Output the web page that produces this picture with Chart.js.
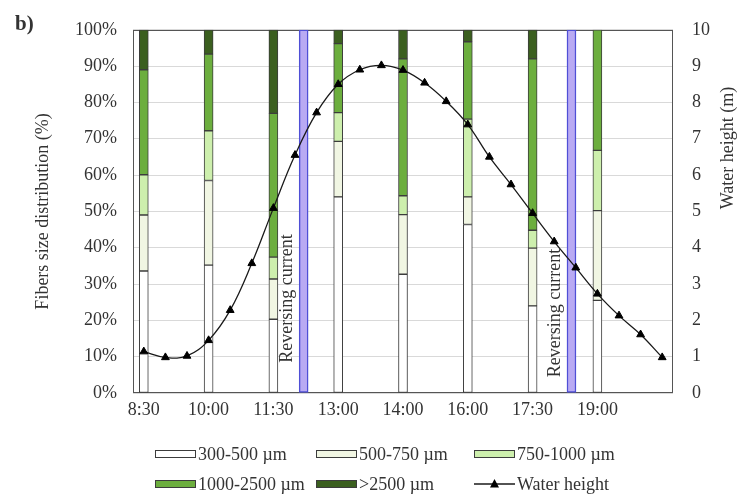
<!DOCTYPE html>
<html>
<head>
<meta charset="utf-8">
<script src="https://cdn.jsdelivr.net/npm/chart.js@4.4.1/dist/chart.umd.min.js"></script>
<style>
  body { margin: 0; background: #fff; }
  #wrap { width: 740px; height: 501px; position: relative; }
</style>
</head>
<body>
<div id="wrap"><canvas id="fiberChart"></canvas></div>
<script>
// sampling times of the fibre bars and their slot on the water height series
var sampleTimes = ['8:30', '10:00', '11:30', '13:00', '14:00', '16:00', '17:30', '19:00'];
var sampleSlots = [0, 3, 6, 9, 12, 15, 18, 21];

// fibre size distribution (%) per sample
var size300 = [33.6, 35.2, 20.3, 54.0, 32.7, 46.4, 24.0, 25.5];
var size500 = [15.4, 23.3, 11.1, 15.3, 16.4, 7.6, 15.9, 24.7];
var size750 = [11.1, 13.7, 6.0, 7.9, 5.2, 21.4, 4.9, 16.6];
var size1000 = [28.9, 21.1, 39.6, 19.0, 37.7, 21.3, 47.2, 33.2];
var size2500 = [11.0, 6.7, 23.0, 3.8, 8.0, 3.3, 8.0, 0];

// water height (m), one value per slot
var waterHeight = [1.14, 0.98, 1.02, 1.45, 2.28, 3.57, 5.09, 6.55, 7.72, 8.50, 8.90, 9.02, 8.89,
                   8.54, 8.03, 7.39, 6.50, 5.74, 4.95, 4.17, 3.45, 2.73, 2.13, 1.61, 0.98];

// slots where the current reverses
var reversingSlots = [7.4, 19.8];

var seriesNames = ['300-500 \u00b5m', '500-750 \u00b5m', '750-1000 \u00b5m', '1000-2500 \u00b5m', '>2500 \u00b5m', 'Water height'];
var seriesColors = ['#ffffff', '#f1f6e3', '#cdefad', '#6cae3e', '#3b5f1f'];

var textColor = '#333333';
var serif = "'Liberation Serif', 'Times New Roman', serif";
Chart.defaults.font.family = serif;
Chart.defaults.color = textColor;

function toPoints(values) {
  return values.map(function (v, i) { return { x: sampleSlots[i], y: v }; });
}

var fibreSets = [size300, size500, size750, size1000, size2500].map(function (vals, i) {
  return {
    type: 'bar',
    label: seriesNames[i],
    data: toPoints(vals),
    backgroundColor: seriesColors[i],
    borderColor: '#3c3c3c',
    borderWidth: 1,
    borderSkipped: false,
    barThickness: 9,
    grouped: false,
    stack: 'fibres',
    yAxisID: 'y',
    order: 1
  };
});

var extras = {
  id: 'extras',
  beforeDatasetsDraw: function (chart) {
    var ctx = chart.ctx, a = chart.chartArea;
    ctx.save();
    ctx.strokeStyle = '#555555';
    ctx.lineWidth = 1;
    ctx.strokeRect(Math.round(a.left) + 0.5, Math.round(a.top) + 0.5, Math.round(a.width) - 1, Math.round(a.height) - 1);
    ctx.restore();
  },
  afterDraw: function (chart) {
    var ctx = chart.ctx;
    var xs = chart.scales.x, ys = chart.scales.y;
    ctx.save();
    ctx.fillStyle = textColor;

    // panel letter
    ctx.font = 'bold 21px ' + serif;
    ctx.textAlign = 'left';
    ctx.textBaseline = 'middle';
    ctx.fillText('b)', 15, 25);

    // right axis title (reads bottom to top)
    ctx.font = '18px ' + serif;
    ctx.save();
    ctx.translate(728, 148);
    ctx.rotate(-Math.PI / 2);
    ctx.textAlign = 'center';
    ctx.fillText('Water height (m)', 0, 0);
    ctx.restore();

    // reversing current notes
    var noteAt = [26, 22];
    reversingSlots.forEach(function (s, i) {
      ctx.save();
      ctx.translate(xs.getPixelForValue(s) - 16, ys.getPixelForValue(noteAt[i]));
      ctx.rotate(-Math.PI / 2);
      ctx.textAlign = 'center';
      ctx.fillText('Reversing current', 0, 0);
      ctx.restore();
    });

    // legend
    var cols = [155, 316, 474], rows = [454, 484];
    ctx.font = '18px ' + serif;
    ctx.textAlign = 'left';
    ctx.textBaseline = 'middle';
    seriesNames.forEach(function (name, i) {
      var x = cols[i % 3], y = rows[Math.floor(i / 3)];
      if (i < 5) {
        ctx.fillStyle = seriesColors[i];
        ctx.fillRect(x, y - 4, 41, 8);
        ctx.strokeStyle = '#3c3c3c';
        ctx.lineWidth = 1;
        ctx.strokeRect(x + 0.5, y - 3.5, 40, 7);
      } else {
        ctx.strokeStyle = '#1a1a1a';
        ctx.lineWidth = 1.3;
        ctx.beginPath();
        ctx.moveTo(x, y);
        ctx.lineTo(x + 41, y);
        ctx.stroke();
        ctx.fillStyle = '#000';
        ctx.beginPath();
        ctx.moveTo(x + 20.5, y - 5);
        ctx.lineTo(x + 25, y + 3.5);
        ctx.lineTo(x + 16, y + 3.5);
        ctx.closePath();
        ctx.fill();
      }
      ctx.fillStyle = textColor;
      ctx.fillText(name, x + 43, y + 1);
    });
    ctx.restore();
  }
};

new Chart(document.getElementById('fiberChart'), {
  type: 'bar',
  data: {
    datasets: fibreSets.concat([
      {
        type: 'bar',
        label: 'Reversing current',
        data: reversingSlots.map(function (s) { return { x: s, y: 100 }; }),
        backgroundColor: '#b9aaf3',
        borderColor: '#4f4fd6',
        borderWidth: 1.5,
        borderSkipped: false,
        barThickness: 9,
        grouped: false,
        stack: 'reversing',
        yAxisID: 'y',
        order: 2
      },
      {
        type: 'line',
        label: seriesNames[5],
        data: waterHeight.map(function (v, i) { return { x: i, y: v }; }),
        borderColor: '#1a1a1a',
        borderWidth: 1.3,
        tension: 0.4,
        pointStyle: 'triangle',
        pointRadius: 4.5,
        pointBackgroundColor: '#000',
        pointBorderColor: '#000',
        pointBorderWidth: 1,
        yAxisID: 'y1',
        order: 0
      }
    ])
  },
  options: {
    responsive: true,
    maintainAspectRatio: false,
    animation: false,
    layout: { padding: { top: 22, bottom: 80, left: 0, right: 0 } },
    plugins: { legend: { display: false }, tooltip: { enabled: false } },
    scales: {
      x: {
        type: 'linear',
        offset: false,
        min: -0.5,
        max: 24.5,
        afterBuildTicks: function (scale) {
          scale.ticks = sampleSlots.map(function (v) { return { value: v }; });
        },
        afterFit: function (scale) { scale.height = 28; },
        ticks: {
          autoSkip: false,
          maxRotation: 0,
          padding: 6,
          font: { size: 18 },
          callback: function (v) { return sampleTimes[sampleSlots.indexOf(v)]; }
        },
        grid: { display: false, drawTicks: false },
        border: { display: false }
      },
      y: {
        position: 'left',
        stacked: true,
        min: 0,
        max: 100,
        afterFit: function (scale) { scale.width = 133; },
        ticks: {
          stepSize: 10,
          padding: 16,
          font: { size: 18 },
          callback: function (v) { return v + '%'; }
        },
        grid: { color: '#d9d9d9', drawTicks: false },
        border: { display: false },
        title: {
          display: true,
          text: 'Fibers size distribution (%)',
          font: { size: 18 },
          padding: { top: 32, bottom: 0 }
        }
      },
      y1: {
        position: 'right',
        min: 0,
        max: 10,
        afterFit: function (scale) { scale.width = 67; },
        ticks: { stepSize: 1, padding: 19, font: { size: 18 } },
        grid: { display: false, drawTicks: false },
        border: { display: false }
      }
    }
  },
  plugins: [extras]
});
</script>
</body>
</html>
